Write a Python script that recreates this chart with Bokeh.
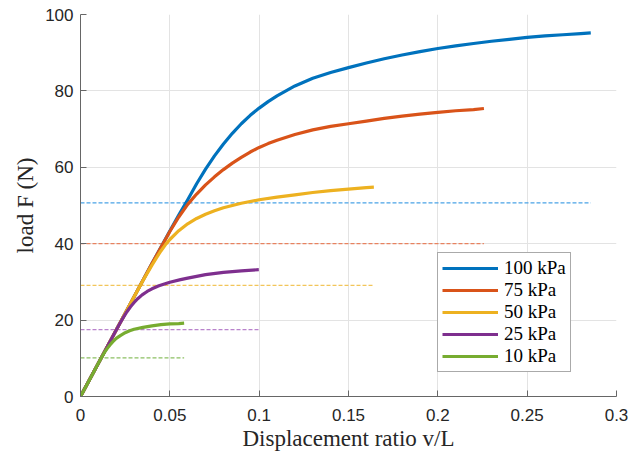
from bokeh.plotting import figure
from bokeh.models import Range1d, FixedTicker
from bokeh.embed import file_html
from bokeh.resources import INLINE

# ---- data ----
labels = ["100 kPa", "75 kPa", "50 kPa", "25 kPa", "10 kPa"]
colors = ["#0072BD", "#D95319", "#EDB120", "#7E2F8E", "#77AC30"]
dash_colors = ["#4aa3e6", "#e8825f", "#f2c55a", "#b983cc", "#8cc063"]

x_100 = [0, 0.01, 0.02, 0.03, 0.04, 0.05, 0.055, 0.06, 0.065, 0.07, 0.075, 0.08, 0.085,
         0.09, 0.095, 0.10, 0.105, 0.11, 0.12, 0.13, 0.14, 0.15, 0.16, 0.17, 0.18, 0.19,
         0.20, 0.21, 0.22, 0.23, 0.24, 0.25, 0.26, 0.27, 0.28, 0.2856]
y_100 = [0, 8.7, 17.4, 26.1, 34.8, 43.3, 47.5, 51.5, 55.7, 59.5, 63.0, 66.1, 68.9,
         71.4, 73.6, 75.5, 77.2, 78.7, 81.3, 83.3, 84.8, 86.1, 87.3, 88.4, 89.4, 90.3,
         91.1, 91.8, 92.4, 93.0, 93.5, 94.0, 94.4, 94.7, 95.0, 95.2]

x_75 = [0, 0.01, 0.02, 0.03, 0.04, 0.05, 0.055, 0.06, 0.065, 0.07, 0.075, 0.08, 0.085,
        0.09, 0.095, 0.10, 0.105, 0.11, 0.12, 0.13, 0.14, 0.15, 0.16, 0.17, 0.18, 0.19,
        0.20, 0.21, 0.22, 0.2258]
y_75 = [0, 8.7, 17.4, 26.1, 34.8, 43.2, 47.0, 50.3, 53.0, 55.4, 57.5, 59.4, 61.1,
        62.6, 64.0, 65.2, 66.2, 67.1, 68.6, 69.8, 70.7, 71.4, 72.1, 72.8, 73.4, 73.9,
        74.4, 74.8, 75.1, 75.4]

x_50 = [0, 0.01, 0.02, 0.03, 0.035, 0.04, 0.0425, 0.045, 0.0475, 0.05, 0.055, 0.06, 0.065,
        0.07, 0.075, 0.08, 0.09, 0.10, 0.11, 0.12, 0.13, 0.14, 0.15, 0.16, 0.1642]
y_50 = [0, 8.7, 17.4, 26.1, 30.4, 34.4, 36.3, 38.1, 39.7, 41.1, 43.4, 45.2, 46.6,
        47.7, 48.6, 49.4, 50.6, 51.5, 52.2, 52.8, 53.4, 53.9, 54.3, 54.7, 54.8]

x_25 = [0, 0.01, 0.02, 0.022, 0.024, 0.026, 0.028, 0.030, 0.032, 0.0345, 0.0373, 0.040,
        0.0439, 0.05, 0.056, 0.06, 0.07, 0.08, 0.09, 0.0998]
y_25 = [0, 8.7, 17.4, 19.1, 20.7, 22.2, 23.5, 24.6, 25.6, 26.6, 27.5, 28.2,
        29.0, 29.9, 30.6, 31.0, 31.9, 32.5, 32.9, 33.2]

x_10 = [0, 0.005, 0.01, 0.012, 0.0135, 0.015, 0.0165, 0.018, 0.02, 0.0225, 0.025, 0.0275,
        0.03, 0.035, 0.04, 0.045, 0.05, 0.055, 0.058]
y_10 = [0, 4.35, 8.7, 10.4, 11.6, 12.6, 13.5, 14.3, 15.2, 16.0, 16.7, 17.2,
        17.6, 18.1, 18.5, 18.8, 19.0, 19.1, 19.2]

# reference (dashed) levels and their extents
ref_levels = [50.7, 40.0, 29.1, 17.5, 10.1]
ref_x_end = [0.2856, 0.2258, 0.164, 0.0998, 0.058]

x_ticks = [0, 0.05, 0.1, 0.15, 0.2, 0.25, 0.3]
x_tick_labels = ["0", "0.05", "0.1", "0.15", "0.2", "0.25", "0.3"]
y_ticks = [0, 20, 40, 60, 80, 100]

series_x = [x_100, x_75, x_50, x_25, x_10]
series_y = [y_100, y_75, y_50, y_25, y_10]

# ---- figure ----
p = figure(width=628, height=458, output_backend="svg", toolbar_location=None,
           x_range=Range1d(0, 0.3), y_range=Range1d(0, 100),
           min_border_left=80, min_border_right=12, min_border_top=14, min_border_bottom=62,
           background_fill_color="white", border_fill_color="white")
p.outline_line_color = None

# grid
for g in (p.xgrid, p.ygrid):
    g.grid_line_color = "#e3e3e3"
    g.grid_line_width = 1
p.xaxis.ticker = FixedTicker(ticks=x_ticks)
p.yaxis.ticker = FixedTicker(ticks=y_ticks)
p.xgrid.ticker = FixedTicker(ticks=x_ticks)
p.ygrid.ticker = FixedTicker(ticks=y_ticks)
p.xaxis.major_label_overrides = {t: l for t, l in zip(x_ticks, x_tick_labels)}

for ax in (p.xaxis, p.yaxis):
    ax.axis_line_color = "#666666"
    ax.axis_line_width = 1
    ax.major_tick_line_color = "#666666"
    ax.major_tick_in = 6
    ax.major_tick_out = 0
    ax.minor_tick_line_color = None
    ax.major_label_text_font = "Liberation Sans"
    ax.major_label_text_font_size = "17px"
    ax.major_label_text_color = "#262626"
    ax.axis_label_text_font = "Liberation Serif"
    ax.axis_label_text_font_size = "23px"
    ax.axis_label_text_font_style = "normal"
    ax.axis_label_text_color = "#262626"

p.xaxis.axis_label = "Displacement ratio v/L"
p.yaxis.axis_label = "load F (N)"
p.xaxis.major_label_standoff = 12
p.yaxis.major_label_standoff = 7
p.xaxis.axis_label_standoff = 2
p.yaxis.axis_label_standoff = 4

# dashed reference lines
for lvl, xe, c in zip(ref_levels, ref_x_end, dash_colors):
    p.line([0, xe], [lvl, lvl], line_color=c, line_width=1.3, line_dash="4 2")

# curves
for xs, ys, c, lab in zip(series_x, series_y, colors, labels):
    p.line(xs, ys, line_color=c, line_width=3.2, line_join="round",
           legend_label=lab)

lg = p.legend[0]
lg.location = (357, 24)
lg.margin = 0
lg.padding = 4
lg.spacing = 0
lg.glyph_height = 18
lg.glyph_width = 56
lg.label_height = 18
lg.label_width = 62
lg.label_standoff = 6
lg.label_text_font = "Liberation Serif"
lg.label_text_font_size = "19px"
lg.label_text_color = "#000000"
lg.border_line_color = "#555555"
lg.border_line_width = 1
lg.background_fill_color = "white"
lg.background_fill_alpha = 1

open("out.html", "w").write(file_html(p, INLINE))
